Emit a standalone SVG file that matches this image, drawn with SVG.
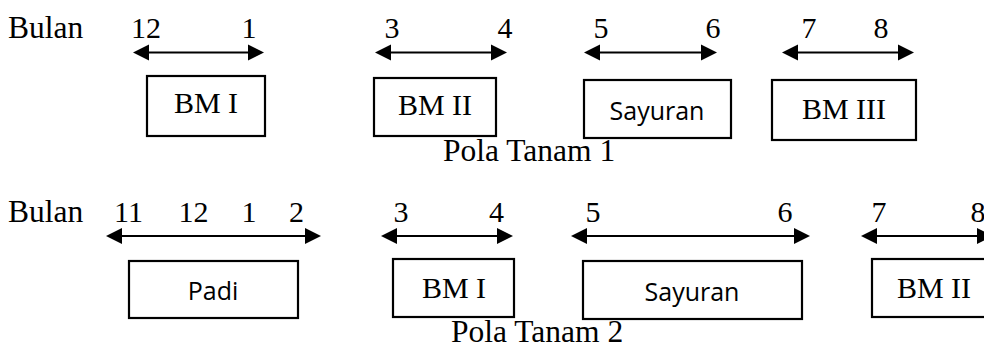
<svg xmlns="http://www.w3.org/2000/svg" width="984" height="349" viewBox="0 0 984 349">
<style>
.t{font-family:"Liberation Serif","Times New Roman",serif;font-size:30px;fill:#000}
.b{font-size:31.5px}
.s{font-family:"Open Sans","Noto Sans",sans-serif;font-size:25px;fill:#000}
.m{text-anchor:middle}
.box{fill:#fff;stroke:#000;stroke-width:2.2}
.arr{stroke:#000;stroke-width:2.2;fill:none;marker-start:url(#ah);marker-end:url(#ah)}
</style>
<defs>
<marker id="ah" markerUnits="userSpaceOnUse" markerWidth="16" markerHeight="18" refX="13" refY="8" orient="auto-start-reverse" viewBox="0 0 16 16">
<path d="M0,0 L16,8 L0,16 z" fill="#000"/>
</marker>
</defs>
<g id="labels">
<text class="t b" x="8" y="38">Bulan</text>
<text class="t m" x="146" y="38">12</text>
<text class="t m" x="249" y="38">1</text>
<text class="t m" x="392" y="38">3</text>
<text class="t m" x="505" y="38">4</text>
<text class="t m" x="601" y="38">5</text>
<text class="t m" x="713" y="38">6</text>
<text class="t m" x="809" y="38">7</text>
<text class="t m" x="881" y="38">8</text>
<text class="t b" x="443" y="161">Pola Tanam 1</text>
<text class="t b" x="8" y="222">Bulan</text>
<text class="t m" x="128.5" y="222">11</text>
<text class="t m" x="193.5" y="222">12</text>
<text class="t m" x="249" y="222">1</text>
<text class="t m" x="296.5" y="222">2</text>
<text class="t m" x="401" y="222">3</text>
<text class="t m" x="496.5" y="222">4</text>
<text class="t m" x="593" y="222">5</text>
<text class="t m" x="785" y="222">6</text>
<text class="t m" x="879" y="222">7</text>
<text class="t m" x="978" y="222">8</text>
<text class="t b" x="451" y="342">Pola Tanam 2</text>
</g>
<g id="connectors">
<line class="arr" x1="136" y1="52.5" x2="261" y2="52.5"/>
<line class="arr" x1="378" y1="52.5" x2="504" y2="52.5"/>
<line class="arr" x1="587" y1="52.5" x2="714" y2="52.5"/>
<line class="arr" x1="785" y1="52.5" x2="911" y2="52.5"/>
<line class="arr" x1="109" y1="236" x2="318" y2="236"/>
<line class="arr" x1="384" y1="236" x2="510" y2="236"/>
<line class="arr" x1="574" y1="236" x2="807" y2="236"/>
<line class="arr" x1="864" y1="236" x2="990" y2="236"/>
</g>
<g id="p1-bm1"><rect class="box" x="147" y="76" width="118" height="60"/><text class="t m" x="206" y="113">BM I</text></g>
<g id="p1-bm2"><rect class="box" x="374" y="78" width="122" height="58"/><text class="t m" x="435" y="115">BM II</text></g>
<g id="p1-sayuran"><rect class="box" x="584" y="80" width="147" height="58"/><text class="s m" x="657" y="120">Sayuran</text></g>
<g id="p1-bm3"><rect class="box" x="772" y="80" width="144" height="60"/><text class="t m" x="844" y="119">BM III</text></g>
<g id="p2-padi"><rect class="box" x="129" y="261" width="169" height="57"/><text class="s m" x="213" y="300">Padi</text></g>
<g id="p2-bm1"><rect class="box" x="393" y="259" width="121" height="58"/><text class="t m" x="454" y="298">BM I</text></g>
<g id="p2-sayuran"><rect class="box" x="583" y="261" width="219" height="58"/><text class="s m" x="692" y="301">Sayuran</text></g>
<g id="p2-bm2"><rect class="box" x="872" y="259" width="124" height="58"/><text class="t m" x="934" y="298">BM II</text></g>
</svg>
